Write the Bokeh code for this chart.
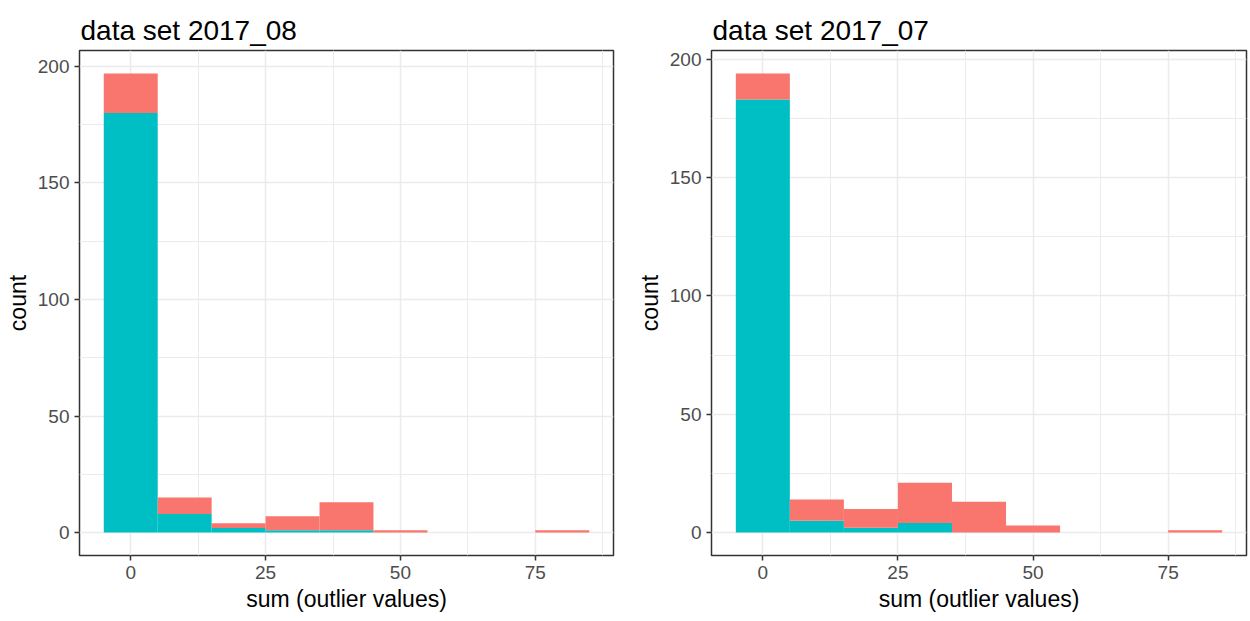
from bokeh.plotting import figure
from bokeh.layouts import row
from bokeh.models import ColumnDataSource, Range1d, FixedTicker
from bokeh.embed import file_html
from bokeh.resources import INLINE

# Histogram bins (centres, width 10) shared by both panels
bin_centers = [0, 10, 20, 30, 40, 50, 60, 70, 80]
bin_width = 10

# data set 2017_08: counts per bin, split into the two groups
aug_cyan = [180, 8, 2, 1, 1, 0, 0, 0, 0]
aug_salmon = [17, 7, 2, 6, 12, 1, 0, 0, 1]

# data set 2017_07
jul_cyan = [183, 5, 2, 4, 0, 0, 0, 0, 0]
jul_salmon = [11, 9, 8, 17, 13, 3, 0, 0, 1]

x_ticks = [0, 25, 50, 75]
x_minor = [12.5, 37.5, 62.5, 87.5]
y_ticks = [0, 50, 100, 150, 200]
y_minor = [25, 75, 125, 175]

CYAN = "#00BFC4"
SALMON = "#F8766D"
FONT = "Liberation Sans"


def panel(title, cyan, salmon, border_left, border_right, frame_w):
    totals = [a + b for a, b in zip(cyan, salmon)]
    ymax = max(totals)
    pad = ymax * 0.05
    src = ColumnDataSource(dict(x=bin_centers, cyan=cyan, salmon=salmon))

    p = figure(
        frame_width=frame_w, frame_height=505,
        min_border_left=border_left, min_border_right=border_right,
        min_border_top=50, min_border_bottom=66,
        x_range=Range1d(-9.5, 89.5), y_range=Range1d(-pad, ymax + pad),
        output_backend="svg", toolbar_location=None,
        background_fill_color="white", border_fill_color="white",
    )
    p.vbar_stack(["cyan", "salmon"], x="x", width=bin_width, source=src,
                 color=[CYAN, SALMON], line_width=0)

    p.title.text = title
    p.title.text_font = FONT
    p.title.text_font_size = "28px"
    p.title.text_font_style = "normal"
    p.title.text_color = "#000000"
    p.title.align = "left"
    p.title.offset = 1
    p.title.standoff = 10

    p.xaxis.ticker = FixedTicker(ticks=x_ticks, minor_ticks=x_minor)
    p.yaxis.ticker = FixedTicker(ticks=y_ticks, minor_ticks=y_minor)
    p.xaxis.axis_label = "sum (outlier values)"
    p.yaxis.axis_label = "count"

    for ax in (p.xaxis[0], p.yaxis[0]):
        ax.axis_line_color = None
        ax.major_tick_line_color = "#333333"
        ax.major_tick_line_width = 1.5
        ax.major_tick_out = 5
        ax.major_tick_in = 0
        ax.minor_tick_line_color = None
        ax.major_label_text_font = FONT
        ax.major_label_text_font_size = "19px"
        ax.major_label_text_color = "#4D4D4D"
        ax.axis_label_text_font = FONT
        ax.axis_label_text_font_size = "23px"
        ax.axis_label_text_font_style = "normal"
        ax.axis_label_text_color = "#000000"
        ax.major_label_standoff = 5
        ax.axis_label_standoff = 4

    for g in (p.xgrid[0], p.ygrid[0]):
        g.grid_line_color = "#EBEBEB"
        g.grid_line_width = 1.5
        g.minor_grid_line_color = "#EBEBEB"
        g.minor_grid_line_width = 1

    p.outline_line_color = "#333333"
    p.outline_line_width = 1.5
    p.outline_line_alpha = 1
    return p


p1 = panel("data set 2017_08", aug_cyan, aug_salmon, 79, 12, 534)
p2 = panel("data set 2017_07", jul_cyan, jul_salmon, 86, 4, 535)

layout = row(p1, p2, spacing=0)
open("out.html", "w").write(file_html(layout, INLINE))
